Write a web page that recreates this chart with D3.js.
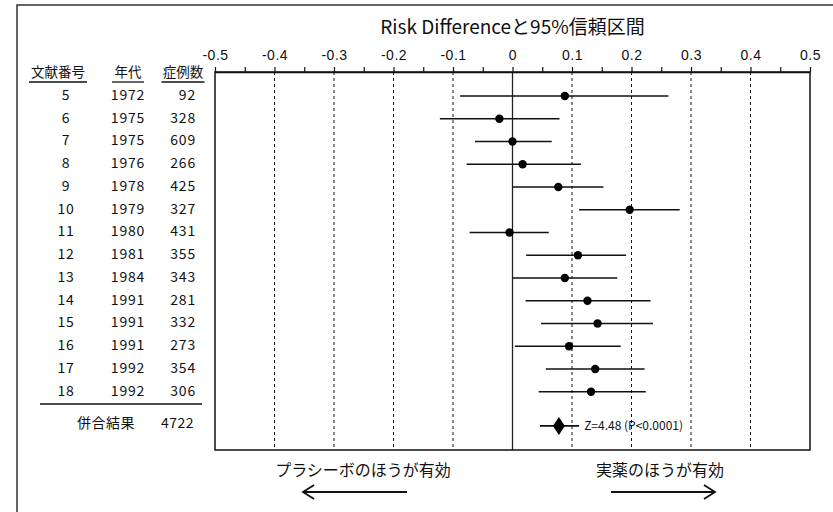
<!DOCTYPE html>
<html>
<head>
<meta charset="utf-8">
<script src="https://cdn.jsdelivr.net/npm/d3@7"></script>
<style>
  body { margin: 0; background: #fff; }
  svg { display: block; font-family: "Noto Sans CJK JP", "Noto Sans", sans-serif; }
</style>
</head>
<body>
<svg id="chart" width="833" height="512"></svg>
<script>
// study table
const studyIds = [5, 6, 7, 8, 9, 10, 11, 12, 13, 14, 15, 16, 17, 18];
const years = [1972, 1975, 1975, 1976, 1978, 1979, 1980, 1981, 1984, 1991, 1991, 1991, 1992, 1992];
const cases = [92, 328, 609, 266, 425, 327, 431, 355, 343, 281, 332, 273, 354, 306];

// risk difference with 95% CI
const riskDiff = [0.088, -0.022, 0.0, 0.017, 0.077, 0.197, -0.005, 0.110, 0.088, 0.126, 0.143, 0.095, 0.139, 0.132];
const ciLower = [-0.088, -0.122, -0.063, -0.077, 0.0, 0.112, -0.072, 0.023, 0.0, 0.022, 0.048, 0.004, 0.056, 0.044];
const ciUpper = [0.262, 0.079, 0.066, 0.115, 0.153, 0.281, 0.061, 0.191, 0.176, 0.232, 0.236, 0.182, 0.222, 0.224];

// pooled result
const pooledRd = [0.078];
const pooledLower = [0.046];
const pooledUpper = [0.112];
const pooledCases = [4722];
const pooledLabel = "Z=4.48 (P<0.0001)";

const xTicks = [-0.5, -0.4, -0.3, -0.2, -0.1, 0, 0.1, 0.2, 0.3, 0.4, 0.5];
const xMinorTicks = [-0.45, -0.35, -0.25, -0.15, -0.05, 0.05, 0.15, 0.25, 0.35, 0.45];
const headers = ["文献番号", "年代", "症例数"];

const svg = d3.select("#chart");

const plot = { left: 215, right: 810, top: 72, bottom: 450 };

const x = d3.scaleLinear().domain([-0.5, 0.5]).range([plot.left, plot.right]);
// row index -> y, pooled row sits at 14.5
const y = d3.scaleLinear().domain([0, 13]).range([96, 391.75]);

// plain hyphen for negatives, like the original
const fmt = d3.formatLocale({ decimal: ".", thousands: ",", grouping: [3], currency: ["", ""], minus: "-" }).format(".1f");

// outer frame (runs off the page on the right and bottom)
svg.append("path")
  .attr("d", "M17,520 L17,5 L840,5")
  .attr("fill", "none")
  .attr("stroke", "#333")
  .attr("stroke-width", 1.5);

// title
svg.append("text")
  .attr("x", x(0))
  .attr("y", 34)
  .attr("text-anchor", "middle")
  .style("font-size", "19px")
  .attr("fill", "#111")
  .text("Risk Differenceと95%信頼区間");

// grid lines
svg.append("g")
  .selectAll("line")
  .data(xTicks.filter(d => d !== 0 && Math.abs(d) !== 0.5))
  .enter()
  .append("line")
  .attr("x1", d => x(d)).attr("x2", d => x(d))
  .attr("y1", plot.top).attr("y2", plot.bottom)
  .attr("stroke", "#111")
  .attr("stroke-width", 1)
  .attr("stroke-dasharray", "3,3");

// zero line
svg.append("line")
  .attr("x1", x(0)).attr("x2", x(0))
  .attr("y1", plot.top).attr("y2", plot.bottom)
  .attr("stroke", "#222")
  .attr("stroke-width", 1.3);

// plot box
svg.append("rect")
  .attr("x", plot.left).attr("y", plot.top)
  .attr("width", plot.right - plot.left)
  .attr("height", plot.bottom - plot.top)
  .attr("fill", "none")
  .attr("stroke", "#111")
  .attr("stroke-width", 1.5);

// top axis
const axis = svg.append("g")
  .attr("transform", `translate(0,${plot.top})`)
  .call(d3.axisTop(x).tickValues(xTicks).tickSize(5).tickPadding(7).tickSizeOuter(0)
    .tickFormat(d => d === 0 ? "0" : fmt(d)));
axis.select(".domain").attr("stroke", "#111").attr("stroke-width", 1.5);
axis.selectAll(".tick line").attr("stroke", "#111").attr("stroke-width", 1.2);
axis.selectAll("text")
  .style("font-size", "14px")
  .style("letter-spacing", "0.5px")
  .attr("fill", "#111");

const minor = svg.append("g")
  .attr("transform", `translate(0,${plot.top})`)
  .call(d3.axisTop(x).tickValues(xMinorTicks).tickSize(5).tickFormat(""));
minor.select(".domain").remove();
minor.selectAll(".tick line").attr("stroke", "#111").attr("stroke-width", 1.2);

// table headers
const headerX = [58, 128, 183];
const headerW = [58, 32, 43];
const hdr = svg.append("g");
headers.forEach((h, i) => {
  hdr.append("text")
    .attr("x", headerX[i])
    .attr("y", 77)
    .attr("text-anchor", "middle")
    .style("font-size", "13.5px")
    .attr("fill", "#111")
    .text(h);
  hdr.append("line")
    .attr("x1", headerX[i] - headerW[i] / 2).attr("x2", headerX[i] + headerW[i] / 2)
    .attr("y1", 82).attr("y2", 82)
    .attr("stroke", "#111").attr("stroke-width", 1.3);
});

// table rows
const rows = svg.append("g")
  .selectAll("g")
  .data(studyIds)
  .enter()
  .append("g")
  .attr("transform", (d, i) => `translate(0,${y(i) - 1})`);

rows.append("text")
  .attr("x", 66).attr("dy", "0.35em")
  .attr("text-anchor", "middle")
  .text(d => d);
rows.append("text")
  .attr("x", 128).attr("dy", "0.35em")
  .attr("text-anchor", "middle")
  .text((d, i) => years[i]);
rows.append("text")
  .attr("x", 196).attr("dy", "0.35em")
  .attr("text-anchor", "end")
  .text((d, i) => cases[i]);
rows.selectAll("text")
  .style("font-size", "14px")
  .style("letter-spacing", "0.8px")
  .attr("fill", "#111");

// separator + pooled row
svg.append("line")
  .attr("x1", 40).attr("x2", 202)
  .attr("y1", 404).attr("y2", 404)
  .attr("stroke", "#111").attr("stroke-width", 1.3);

svg.append("text")
  .attr("x", 135).attr("y", y(14.5) - 3).attr("dy", "0.35em")
  .attr("text-anchor", "end")
  .style("font-size", "14px")
  .style("letter-spacing", "0.5px")
  .attr("fill", "#111")
  .text("併合結果");
svg.append("text")
  .attr("x", 194).attr("y", y(14.5) - 3).attr("dy", "0.35em")
  .attr("text-anchor", "end")
  .style("font-size", "14px")
  .style("letter-spacing", "0.5px")
  .attr("fill", "#111")
  .text(pooledCases[0]);

// confidence intervals
const ci = svg.append("g");
ci.selectAll("line")
  .data(riskDiff)
  .enter()
  .append("line")
  .attr("x1", (d, i) => x(ciLower[i]))
  .attr("x2", (d, i) => x(ciUpper[i]))
  .attr("y1", (d, i) => y(i))
  .attr("y2", (d, i) => y(i))
  .attr("stroke", "#111")
  .attr("stroke-width", 1.6);

ci.selectAll("circle")
  .data(riskDiff)
  .enter()
  .append("circle")
  .attr("cx", d => x(d))
  .attr("cy", (d, i) => y(i))
  .attr("r", 4.2)
  .attr("fill", "#000");

// pooled estimate
const py = y(14.5);
svg.append("line")
  .attr("x1", x(pooledLower[0])).attr("x2", x(pooledUpper[0]))
  .attr("y1", py).attr("y2", py)
  .attr("stroke", "#111").attr("stroke-width", 1.8);
svg.append("path")
  .attr("d", `M0,-9 L6,0 L0,9 L-6,0 Z`)
  .attr("transform", `translate(${x(pooledRd[0])},${py})`)
  .attr("fill", "#000");
svg.append("text")
  .attr("x", x(pooledUpper[0]) + 5)
  .attr("y", py)
  .attr("dy", "0.35em")
  .style("font-size", "12px")
  .attr("fill", "#111")
  .text(pooledLabel);

// direction labels and arrows
svg.append("text")
  .attr("x", 363).attr("y", 470).attr("dy", "0.35em")
  .attr("text-anchor", "middle")
  .style("font-size", "16px")
  .attr("fill", "#111")
  .text("プラシーボのほうが有効");
svg.append("text")
  .attr("x", 660).attr("y", 470).attr("dy", "0.35em")
  .attr("text-anchor", "middle")
  .style("font-size", "16px")
  .attr("fill", "#111")
  .text("実薬のほうが有効");

const arrows = svg.append("g")
  .attr("fill", "none")
  .attr("stroke", "#111")
  .attr("stroke-width", 1.8);
arrows.append("path").attr("d", "M407,492 L303,492 M314,485 L303,492 L314,499");
arrows.append("path").attr("d", "M611,492 L715,492 M704,485 L715,492 L704,499");
</script>
</body>
</html>
